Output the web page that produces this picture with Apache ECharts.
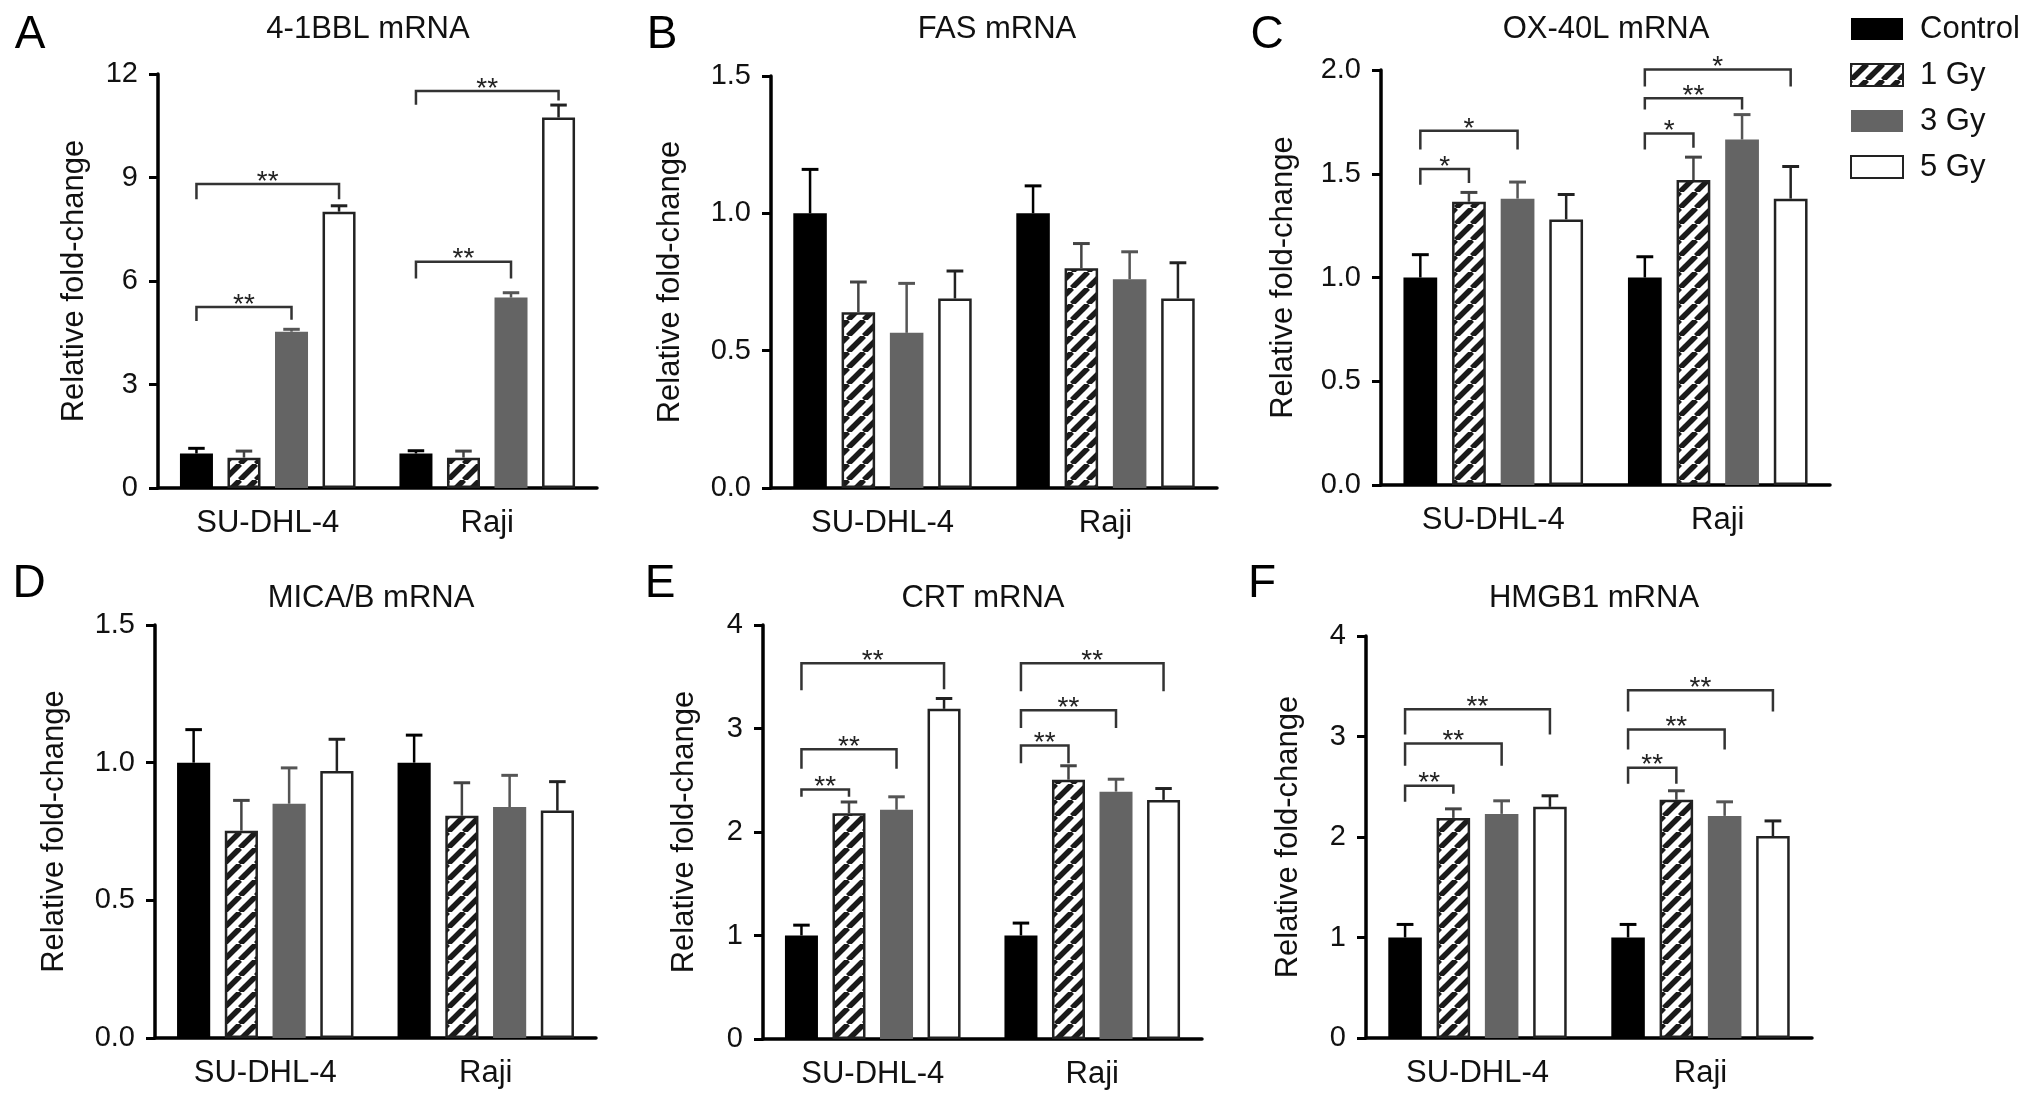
<!DOCTYPE html>
<html>
<head>
<meta charset="utf-8">
<script src="https://cdn.jsdelivr.net/npm/echarts@6/dist/echarts.min.js"></script>
<style>html,body{margin:0;padding:0;background:#fff}#c{width:2032px;height:1100px}</style>
</head>
<body>
<div id="c"></div>
<script>
// ---------- data ----------
const categories = ['SU-DHL-4', 'Raji'];
const groups = ['Control', '1 Gy', '3 Gy', '5 Gy'];
const panelLetters = ['A', 'B', 'C', 'D', 'E', 'F'];
const panelTitles = ['4-1BBL mRNA', 'FAS mRNA', 'OX-40L mRNA', 'MICA/B mRNA', 'CRT mRNA', 'HMGB1 mRNA'];
const yAxisName = 'Relative fold-change';
const yMax = [12, 1.5, 2.0, 1.5, 4, 4];
const yStep = [3, 0.5, 0.5, 0.5, 1, 1];
const yDecimals = [0, 1, 1, 1, 0, 0];

// means [SU-DHL-4, Raji] per group
const A_means = [[1.00, 1.00], [0.88, 0.88], [4.53, 5.52], [8.01, 10.74]];
const A_errs  = [[0.15, 0.08], [0.19, 0.19], [0.07, 0.14], [0.17, 0.36]];
const B_means = [[1.00, 1.00], [0.64, 0.80], [0.565, 0.76], [0.69, 0.69]];
const B_errs  = [[0.16, 0.10], [0.11, 0.09], [0.18, 0.10], [0.10, 0.13]];
const C_means = [[1.00, 1.00], [1.365, 1.47], [1.38, 1.665], [1.28, 1.38]];
const C_errs  = [[0.11, 0.10], [0.045, 0.11], [0.08, 0.12], [0.12, 0.155]];
const D_means = [[1.00, 1.00], [0.753, 0.807], [0.851, 0.839], [0.97, 0.826]];
const D_errs  = [[0.12, 0.10], [0.11, 0.12], [0.13, 0.115], [0.115, 0.105]];
const E_means = [[1.00, 1.00], [2.18, 2.505], [2.215, 2.39], [3.19, 2.31]];
const E_errs  = [[0.10, 0.12], [0.11, 0.135], [0.125, 0.12], [0.10, 0.11]];
const F_means = [[1.00, 1.00], [2.19, 2.37], [2.23, 2.21], [2.30, 2.01]];
const F_errs  = [[0.13, 0.13], [0.09, 0.09], [0.13, 0.14], [0.11, 0.15]];

// significance brackets: [category, fromGroup, toGroup, lineY, leftLegBottom, rightLegBottom, label]
const A_sig = [[0,0,2,5.25,4.84,4.88,'**'],[0,0,3,8.81,8.37,8.37,'**'],[1,0,2,6.56,6.07,6.07,'**'],[1,0,3,11.51,11.11,11.23,'**']];
const B_sig = [];
const C_sig = [[0,0,1,1.523,1.447,1.455,'*'],[0,0,2,1.707,1.617,1.617,'*'],[1,0,1,1.694,1.617,1.625,'*'],[1,0,2,1.864,1.81,1.81,'**'],[1,0,3,2.003,1.92,1.92,'*']];
const D_sig = [];
const E_sig = [[0,0,1,2.41,2.34,2.34,'**'],[0,0,2,2.80,2.61,2.61,'**'],[0,0,3,3.63,3.37,3.38,'**'],[1,0,1,2.836,2.665,2.665,'**'],[1,0,2,3.176,3.006,3.006,'**'],[1,0,3,3.63,3.36,3.36,'**']];
const F_sig = [[0,0,1,2.51,2.35,2.43,'**'],[0,0,2,2.93,2.71,2.71,'**'],[0,0,3,3.27,3.02,3.02,'**'],[1,0,1,2.69,2.53,2.53,'**'],[1,0,2,3.07,2.87,2.87,'**'],[1,0,3,3.46,3.25,3.25,'**']];

const allMeans = [A_means, B_means, C_means, D_means, E_means, F_means];
const allErrs = [A_errs, B_errs, C_errs, D_errs, E_errs, F_errs];
const allSig = [A_sig, B_sig, C_sig, D_sig, E_sig, F_sig];

// ---------- layout / style ----------
const grids = [
  {left: 158, top: 74, width: 439, height: 414},
  {left: 771, top: 76, width: 446, height: 412},
  {left: 1381, top: 70, width: 449, height: 415},
  {left: 155, top: 625, width: 441, height: 413},
  {left: 763, top: 625, width: 439, height: 414},
  {left: 1366, top: 636, width: 446, height: 402}
];
const nameGaps = [68, 85, 82, 85, 63, 62];
const titlePos = [[363, 9], [992, 9], [1601, 9], [366, 578], [978, 578], [1589, 578]];
const letterPos = [[25, 7], [657, 7], [1262, 7], [24, 556], [655, 556], [1257, 556]];

const FONT = '"Liberation Sans", Arial, Helvetica, sans-serif';
const CAT_GAP = 0.2, BAR_GAP = 0.44;

// hatch pattern
function makeHatch() {
  const s = 16;
  const c = document.createElement('canvas');
  c.width = s; c.height = s;
  const ctx = c.getContext('2d');
  ctx.fillStyle = '#fff'; ctx.fillRect(0, 0, s, s);
  ctx.strokeStyle = '#1a1a1a'; ctx.lineWidth = 5.5;
  for (const x0 of [-s, 0, s]) {
    ctx.beginPath(); ctx.moveTo(x0, s); ctx.lineTo(x0 + s, 0); ctx.stroke();
  }
  return c;
}
const hatch = {image: makeHatch(), repeat: 'repeat'};

const barStyles = [
  {color: '#000000', borderColor: '#000000', borderWidth: 0},
  {color: hatch, borderColor: '#222222', borderWidth: 2.5},
  {color: '#646464', borderColor: '#646464', borderWidth: 0},
  {color: '#ffffff', borderColor: '#222222', borderWidth: 2.5}
];
const errColors = ['#000000', '#444444', '#555555', '#222222'];

function barCenter(api, cat, g) {
  const band = api.size([1, 0])[0];
  const w = band * (1 - CAT_GAP) / (4 + 3 * BAR_GAP);
  const total = 4 * w + 3 * w * BAR_GAP;
  return {x: api.coord([cat, 0])[0] - total / 2 + g * w * (1 + BAR_GAP) + w / 2, w: w};
}

const option = {
  backgroundColor: '#fff',
  animation: false,
  title: [],
  grid: [],
  xAxis: [],
  yAxis: [],
  series: [],
  legend: {
    data: groups,
    orient: 'vertical',
    left: 1845,
    top: 8,
    itemWidth: 52,
    itemHeight: 22,
    itemGap: 14,
    icon: 'rect',
    textStyle: {fontFamily: FONT, fontSize: 31, color: '#111', lineHeight: 32, padding: [0, 0, 0, 12]}
  }
};

for (let p = 0; p < 6; p++) {
  option.grid.push(Object.assign({containLabel: false}, grids[p]));
  option.title.push({text: panelTitles[p], left: titlePos[p][0], top: titlePos[p][1], textAlign: 'center',
    textStyle: {fontFamily: FONT, fontSize: 31, fontWeight: 'normal', color: '#111'}});
  option.title.push({text: panelLetters[p], left: letterPos[p][0], top: letterPos[p][1], textAlign: 'center',
    textStyle: {fontFamily: FONT, fontSize: 46, fontWeight: 'normal', color: '#000'}});
  option.xAxis.push({
    type: 'category', gridIndex: p, data: categories, boundaryGap: true,
    axisLine: {lineStyle: {color: '#000', width: 3.5}},
    axisTick: {alignWithLabel: true, length: 9, lineStyle: {color: '#000', width: 3}},
    axisLabel: {fontFamily: FONT, fontSize: 31, color: '#111', margin: 20},
    splitLine: {show: false}
  });
  const dec = yDecimals[p];
  option.yAxis.push({
    type: 'value', gridIndex: p, min: 0, max: yMax[p], interval: yStep[p],
    name: yAxisName, nameLocation: 'middle', nameGap: nameGaps[p],
    nameTextStyle: {fontFamily: FONT, fontSize: 31, color: '#111'},
    axisLine: {show: true, lineStyle: {color: '#000', width: 3.5}},
    axisTick: {show: true, length: 9, lineStyle: {color: '#000', width: 3}},
    axisLabel: {fontFamily: FONT, fontSize: 29, color: '#111', margin: 20,
      formatter: v => Number(v).toFixed(dec)},
    splitLine: {show: false}
  });
  const means = allMeans[p], errs = allErrs[p], sig = allSig[p];
  for (let g = 0; g < 4; g++) {
    option.series.push({
      type: 'bar', name: groups[g], xAxisIndex: p, yAxisIndex: p,
      data: means[g], barGap: (BAR_GAP * 100) + '%', barCategoryGap: (CAT_GAP * 100) + '%',
      itemStyle: barStyles[g], emphasis: {disabled: true}, z: 2
    });
  }
  // error bars
  const errData = [];
  for (let g = 0; g < 4; g++) for (let c = 0; c < 2; c++) errData.push([c, g, means[g][c], means[g][c] + errs[g][c]]);
  option.series.push({
    type: 'custom', xAxisIndex: p, yAxisIndex: p, z: 3, silent: true,
    data: errData, encode: {x: 0, y: 3},
    renderItem: function (params, api) {
      const cat = api.value(0), g = api.value(1);
      const bc = barCenter(api, cat, g);
      const y0 = api.coord([cat, api.value(2)])[1];
      const y1 = api.coord([cat, api.value(3)])[1];
      const cap = bc.w * 0.5;
      const st = {stroke: errColors[g], lineWidth: 2.5};
      return {type: 'group', children: [
        {type: 'line', shape: {x1: bc.x, y1: y0, x2: bc.x, y2: y1}, style: st},
        {type: 'line', shape: {x1: bc.x - cap / 2, y1: y1, x2: bc.x + cap / 2, y2: y1}, style: {stroke: errColors[g], lineWidth: 3}}
      ]};
    }
  });
  // significance brackets
  if (sig.length) {
    option.series.push({
      type: 'custom', xAxisIndex: p, yAxisIndex: p, z: 4, silent: true, clip: false,
      data: sig.map(s => [s[0], s[3]]), encode: {x: 0, y: 1},
      renderItem: function (params, api) {
        const s = sig[params.dataIndex];
        const cat = s[0];
        const xa = barCenter(api, cat, s[1]).x, xb = barCenter(api, cat, s[2]).x;
        const yl = api.coord([cat, s[3]])[1];
        const ya = api.coord([cat, s[4]])[1];
        const yb = api.coord([cat, s[5]])[1];
        return {type: 'group', children: [
          {type: 'polyline', shape: {points: [[xa, ya], [xa, yl], [xb, yl], [xb, yb]]},
            style: {stroke: '#333', lineWidth: 2.5, fill: null}},
          {type: 'text', style: {text: s[6], x: (xa + xb) / 2, y: yl + 12, align: 'center', verticalAlign: 'bottom',
            font: 'normal 28px ' + FONT, fill: '#222'}}
        ]};
      }
    });
  }
}

const chart = echarts.init(document.getElementById('c'), null, {renderer: 'canvas'});
chart.setOption(option);
</script>
</body>
</html>
